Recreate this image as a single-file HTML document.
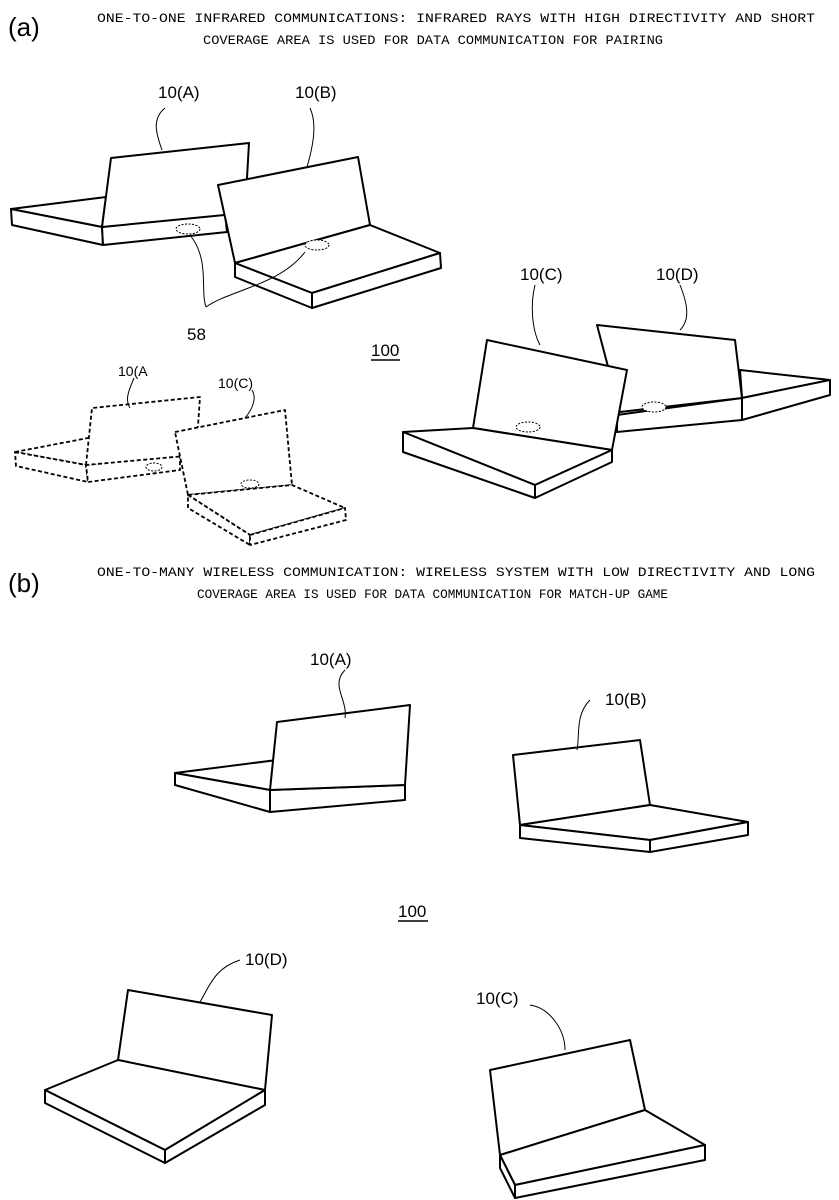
<!DOCTYPE html>
<html><head><meta charset="utf-8"><style>
html,body{margin:0;padding:0;background:#fff}
svg{display:block}
text{font-family:"Liberation Sans",sans-serif;fill:#000;stroke:none}
.t{font-family:"Liberation Mono",monospace;font-size:13px}
.l{font-size:17px}
</style></head><body>
<svg width="839" height="1200" viewBox="0 0 839 1200" xmlns="http://www.w3.org/2000/svg">
<text x="8" y="36" style="font-size:26px">(a)</text>
<text class="t" x="97" y="22" textLength="718" lengthAdjust="spacingAndGlyphs">ONE-TO-ONE INFRARED COMMUNICATIONS:  INFRARED RAYS WITH HIGH DIRECTIVITY AND SHORT</text>
<text class="t" x="203" y="44" textLength="460" lengthAdjust="spacingAndGlyphs">COVERAGE AREA IS USED FOR DATA COMMUNICATION FOR PAIRING</text>
<text class="l" x="158" y="98">10(A)</text>
<text class="l" x="295" y="98">10(B)</text>
<text class="l" x="187" y="340">58</text>
<text class="l" x="371" y="356">100</text>
<text x="118" y="376" style="font-size:14px">10(A</text>
<text x="218" y="388" style="font-size:14px">10(C)</text>
<text class="l" x="520" y="280">10(C)</text>
<text class="l" x="656" y="280">10(D)</text>
<text x="8" y="592" style="font-size:26px">(b)</text>
<text class="t" x="97" y="576" textLength="718" lengthAdjust="spacingAndGlyphs">ONE-TO-MANY WIRELESS COMMUNICATION:  WIRELESS SYSTEM WITH LOW DIRECTIVITY AND LONG</text>
<text class="t" x="197" y="598" textLength="471" lengthAdjust="spacingAndGlyphs">COVERAGE AREA IS USED FOR DATA COMMUNICATION FOR MATCH-UP GAME</text>
<text class="l" x="310" y="665">10(A)</text>
<text class="l" x="605" y="705">10(B)</text>
<text class="l" x="398" y="917">100</text>
<text class="l" x="245" y="965">10(D)</text>
<text class="l" x="476" y="1004">10(C)</text>

<g fill="#fff" stroke="#000" stroke-width="2" stroke-linejoin="round">
<!-- (a) device A back view -->
<polygon points="11,209 106,197 102,227"/>
<polygon points="11,209 102,227 103,245 12,225"/>
<polygon points="102,227 225,213 227,232 103,245"/>
<polygon points="102,227 111,158 249,143 245,213"/>
<ellipse cx="188" cy="229" rx="12" ry="5" stroke-width="1" stroke-dasharray="2,1.5"/>
<!-- device B -->
<polygon points="218,185 358,157 370,225 235,263"/>
<polygon points="235,263 370,225 440,253 312,293"/>
<polygon points="235,263 312,293 312,308 235,277"/>
<polygon points="312,293 440,253 441,268 312,308"/>
<ellipse cx="317" cy="245" rx="12" ry="5" stroke-width="1" stroke-dasharray="2,1.5"/>

<!-- dashed pair -->
<g stroke-dasharray="4,2.5" stroke-width="1.8">
<polygon points="15,452 88,438 180,452 86,465"/>
<polygon points="15,452 86,465 88,482 16,466"/>
<polygon points="86,465 180,452 180,470 88,482"/>
<polygon points="86,465 92,408 200,397 196,455"/>
<polygon points="175,432 285,410 292,485 188,495"/>
<polygon points="188,495 292,485 345,508 250,535"/>
<polygon points="188,495 250,535 250,545 188,508"/>
<polygon points="250,535 345,508 346,520 250,545"/>
</g>

<!-- C/D pair -->
<polygon points="740,370 830,380 742,398"/>
<polygon points="742,398 830,380 830,395 742,420"/>
<polygon points="617,415 742,398 742,420 617,432"/>
<polygon points="597,325 735,340 742,398 620,412"/>
<ellipse cx="654" cy="407" rx="12" ry="5" stroke-width="1" stroke-dasharray="2,1.5"/>
<polygon points="487,340 627,370 612,450 473,428"/>
<polygon points="473,428 612,450 535,485 403,432"/>
<polygon points="403,432 535,485 535,498 403,452"/>
<polygon points="535,485 612,450 612,462 535,498"/>
<ellipse cx="528" cy="427" rx="12" ry="5" stroke-width="1" stroke-dasharray="2,1.5"/>

<!-- b A -->
<polygon points="175,773 277,760 270,790"/>
<polygon points="175,773 270,790 270,812 175,785"/>
<polygon points="270,790 405,785 405,800 270,812"/>
<polygon points="270,790 277,722 410,705 405,785"/>
<!-- b B -->
<polygon points="513,755 640,740 650,805 520,825"/>
<polygon points="520,825 650,805 748,822 650,840"/>
<polygon points="520,825 650,840 650,852 520,838"/>
<polygon points="650,840 748,822 748,835 650,852"/>
<!-- b D -->
<polygon points="128,990 272,1015 265,1090 118,1060"/>
<polygon points="118,1060 265,1090 165,1150 45,1090"/>
<polygon points="45,1090 165,1150 165,1163 45,1103"/>
<polygon points="165,1150 265,1090 265,1105 165,1163"/>
<!-- b C -->
<polygon points="490,1070 630,1040 645,1110 500,1155"/>
<polygon points="500,1155 645,1110 705,1145 515,1185"/>
<polygon points="500,1155 515,1185 515,1198 500,1168"/>
<polygon points="515,1185 705,1145 705,1160 515,1198"/>
</g>

<g fill="none" stroke="#000" stroke-width="1">
<path d="M165,108 C150,120 158,138 162,150"/>
<path d="M310,108 C318,125 312,150 307,167"/>
<path d="M206,307 C200,290 210,260 190,235"/>
<path d="M206,307 C230,290 280,285 305,252"/>
<path d="M134,378 C128,392 125,400 130,408"/>
<path d="M252,390 C258,400 250,412 245,418"/>
<ellipse cx="154" cy="467" rx="8" ry="4" stroke-dasharray="2,1.5"/>
<ellipse cx="250" cy="484" rx="9" ry="4" stroke-dasharray="2,1.5"/>
<path d="M535,285 C530,305 532,330 540,345"/>
<path d="M680,285 C688,305 690,320 680,330"/>
<path d="M345,670 C330,685 348,700 345,718"/>
<path d="M590,700 C575,715 580,735 577,750"/>
<path d="M240,960 C215,968 210,985 200,1002"/>
<path d="M530,1005 C550,1008 565,1030 565,1050"/>
<path d="M371,360 H400 M398,921 H428" stroke-width="1.5"/>
</g>
</svg>
</body></html>
